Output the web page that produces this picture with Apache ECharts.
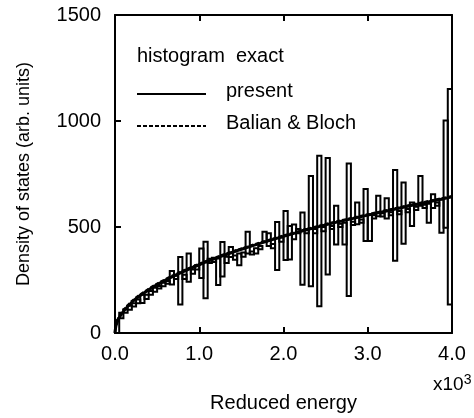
<!DOCTYPE html>
<html><head><meta charset="utf-8">
<script src="https://cdn.jsdelivr.net/npm/echarts@6/dist/echarts.min.js"></script>
<style>html,body{margin:0;padding:0;background:#fff}#c{width:474px;height:418px}</style>
</head><body><div id="c"></div>
<script>
// ---- data ----
const binWidth = 50; // reduced-energy units per histogram bin
const histLow  = [0,70,95,110,125,140,142,160,180,195,210,220,232,229,255,134,255,242,280,300,
                  260,164,330,335,227,266,330,359,345,320,360,375,370,375,395,430,410,400,297,430,
                  344,347,442,470,228,470,221,470,126,480,276,490,418,500,418,174,510,513,520,434,
                  434,540,551,550,540,555,341,560,421,570,505,580,600,590,520,590,600,473,497,134];
const histHigh = [60,95,112,128,140,158,180,180,198,213,222,237,245,292,270,358,275,375,300,320,
                  398,430,350,355,352,429,360,406,365,375,380,478,385,400,410,478,470,420,523,450,
                  575,505,512,490,568,490,741,490,836,500,825,505,600,515,520,800,525,615,535,679,
                  560,555,647,565,636,570,769,575,710,585,615,595,741,605,610,655,615,630,1002,1151];
const curveE       = [0,10,25,50,100,200,300,500,750,1000,1250,1500,2000,2500,3000,3500,4000];
const presentVals  = [0,32,50,72,102,145,177,228,279,322,360,395,456,510,556,600,642];
const balianVals   = [0,38,56,78,108,150,181,232,283,326,364,398,459,513,559,603,645];

const histData = histLow.map((lo, i) => [i * binWidth, (i + 1) * binWidth, lo, histHigh[i]]);
const FONT = '"Liberation Sans", Arial, Helvetica, sans-serif';

const chart = echarts.init(document.getElementById('c'), null, {renderer: 'canvas'});
chart.setOption({
  animation: false,
  backgroundColor: '#fff',
  grid: {left: 115, right: 22, top: 15, bottom: 83},
  xAxis: [{
    type: 'value', min: 0, max: 4000, interval: 1000,
    axisLine: {lineStyle: {color: '#000', width: 2}},
    axisTick: {inside: true, length: 6, lineStyle: {color: '#000', width: 2}},
    axisLabel: {color: '#000', fontSize: 20, fontFamily: FONT, margin: 11,
      formatter: v => (v / 1000).toFixed(1)},
    splitLine: {show: false},
    name: 'Reduced energy', nameLocation: 'middle', nameGap: 60,
    nameTextStyle: {color: '#000', fontSize: 20, fontFamily: FONT}
  }, {
    type: 'value', position: 'top', min: 0, max: 4000, interval: 1000,
    axisLine: {show: true, onZero: false, lineStyle: {color: '#000', width: 2}},
    axisTick: {inside: true, length: 6, lineStyle: {color: '#000', width: 2}},
    axisLabel: {show: false}, splitLine: {show: false}
  }],
  yAxis: [{
    type: 'value', min: 0, max: 1500, interval: 500,
    axisLine: {show: true, lineStyle: {color: '#000', width: 2}},
    axisTick: {show: true, inside: true, length: 6, lineStyle: {color: '#000', width: 2}},
    axisLabel: {color: '#000', fontSize: 20, fontFamily: FONT, margin: 14, formatter: v => String(v)},
    splitLine: {show: false},
    name: 'Density of states (arb. units)', nameLocation: 'middle', nameGap: 82,
    nameTextStyle: {color: '#000', fontSize: 18, fontFamily: FONT}
  }, {
    type: 'value', position: 'right', min: 0, max: 1500, interval: 500,
    axisLine: {show: true, onZero: false, lineStyle: {color: '#000', width: 2}},
    axisTick: {show: false}, axisLabel: {show: false}, splitLine: {show: false}
  }],
  series: [{
    type: 'custom', name: 'histogram exact', xAxisIndex: 0, yAxisIndex: 0,
    data: histData, encode: {x: [0, 1], y: [2, 3]}, z: 2,
    renderItem: (params, api) => {
      const a = api.coord([api.value(0), api.value(3)]);
      const b = api.coord([api.value(1), api.value(2)]);
      return {type: 'rect', shape: {x: a[0], y: a[1], width: b[0] - a[0], height: b[1] - a[1]},
        style: {fill: 'none', stroke: '#000', lineWidth: 2}};
    }
  }, {
    type: 'line', name: 'present', smooth: 0.3, symbol: 'none', z: 3,
    data: curveE.map((e, i) => [e, presentVals[i]]),
    lineStyle: {color: '#000', width: 3}
  }, {
    type: 'line', name: 'Balian & Bloch', smooth: 0.3, symbol: 'none', z: 3,
    data: curveE.map((e, i) => [e, balianVals[i]]),
    lineStyle: {color: '#000', width: 2.5, type: [4, 2]}
  }],
  graphic: [
    {type: 'text', left: 137, top: 46, style: {text: 'histogram  exact', fontSize: 20, fontFamily: FONT, fill: '#000'}},
    {type: 'line', shape: {x1: 137, y1: 94, x2: 206, y2: 94}, style: {stroke: '#000', lineWidth: 2}},
    {type: 'text', left: 226, top: 81, style: {text: 'present', fontSize: 20, fontFamily: FONT, fill: '#000'}},
    {type: 'line', shape: {x1: 137, y1: 126, x2: 206, y2: 126}, style: {stroke: '#000', lineWidth: 2, lineDash: [4, 2]}},
    {type: 'text', left: 226, top: 113, style: {text: 'Balian & Bloch', fontSize: 20, fontFamily: FONT, fill: '#000'}},
    {type: 'text', left: 433, top: 373, style: {text: 'x10{s|3}', fontSize: 19, fontFamily: FONT, fill: '#000',
      rich: {s: {fontSize: 14, fontFamily: FONT, verticalAlign: 'top', padding: [0, 0, 10, 0]}}}}
  ]
});
</script></body></html>
